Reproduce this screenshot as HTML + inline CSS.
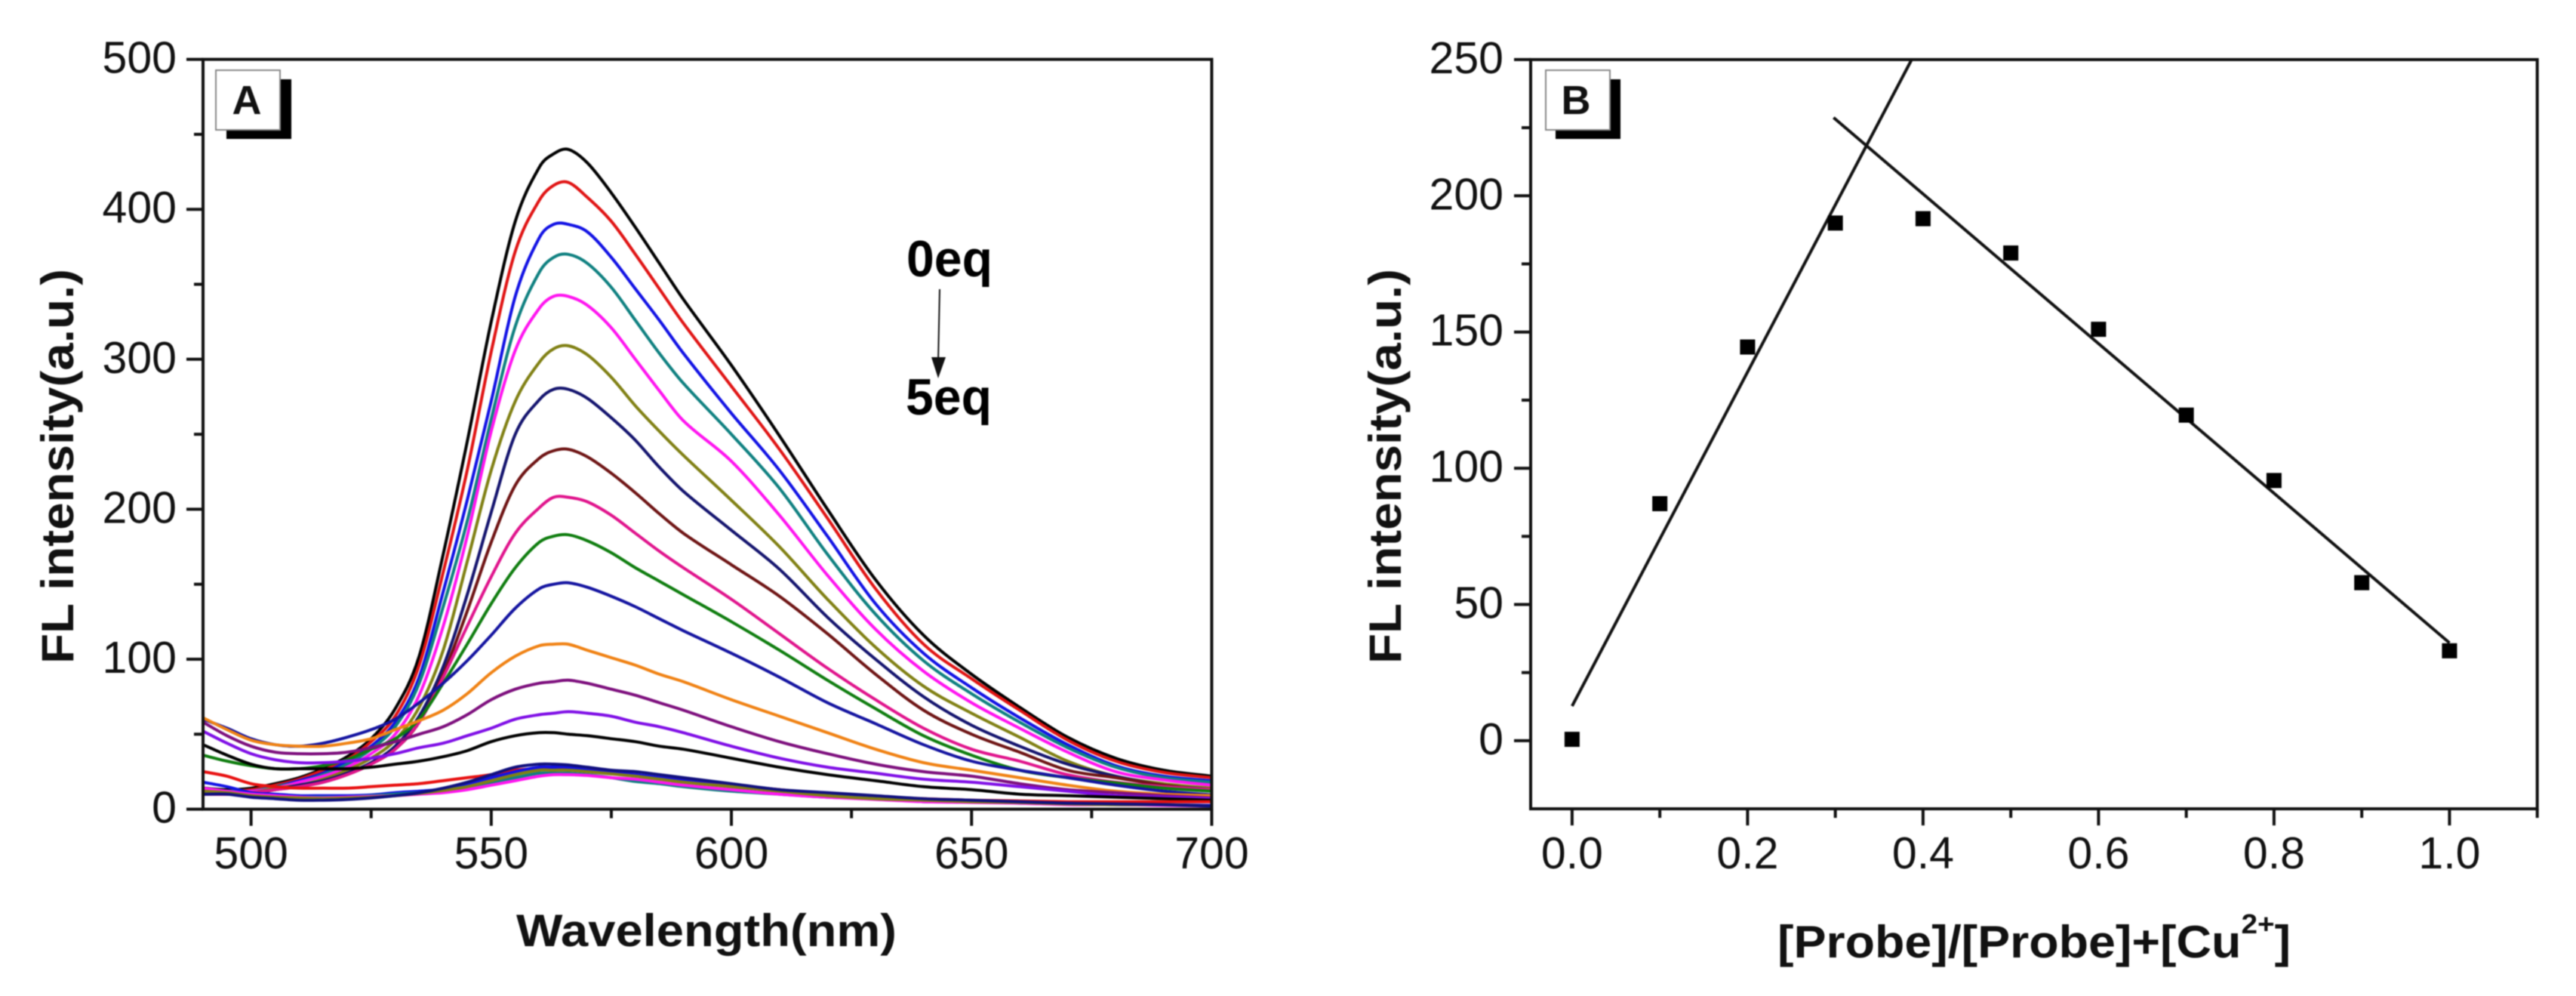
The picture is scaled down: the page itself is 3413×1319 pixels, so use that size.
<!DOCTYPE html>
<html lang="en">
<head>
<meta charset="utf-8">
<title>Fluorescence titration and Job plot</title>
<style>
html,body{margin:0;padding:0;background:#fff;}
body{width:3413px;height:1319px;overflow:hidden;}
svg{display:block;filter:blur(0.8px);}
text{font-family:"Liberation Sans",sans-serif;fill:#111;}
.tick{font-size:59px;}
.title{font-size:60px;font-weight:bold;}
.panel{font-size:54px;font-weight:bold;}
.eq{font-size:68px;font-weight:bold;fill:#000;}
</style>
</head>
<body>
<svg id="figure" xmlns="http://www.w3.org/2000/svg" width="3413" height="1319" viewBox="0 0 3413 1319">
  <rect x="0" y="0" width="3413" height="1319" fill="#fff"/>
  <g id="panelA">
    <g id="curvesA"></g>
    <g id="axesA"></g>
    <rect x="300" y="105" width="86" height="79" fill="#000"/>
    <rect x="286" y="93" width="85" height="79" fill="#fff" stroke="#888" stroke-width="2"/>
    <text class="panel" x="327" y="151" text-anchor="middle">A</text>
    <text class="eq" x="1201" y="366" textLength="114" lengthAdjust="spacingAndGlyphs">0eq</text>
    <line x1="1245" y1="383" x2="1243" y2="480" stroke="#111" stroke-width="2"/>
    <polygon points="1234,473 1253,473 1243,501" fill="#111"/>
    <text class="eq" x="1200" y="549" textLength="114" lengthAdjust="spacingAndGlyphs">5eq</text>
    <text class="title" x="684" y="1253" textLength="504" lengthAdjust="spacingAndGlyphs">Wavelength(nm)</text>
    <text class="title" transform="translate(97,879) rotate(-90)" textLength="523" lengthAdjust="spacingAndGlyphs">FL intensity(a.u.)</text>
  </g>
  <g id="panelB">
    <g id="axesB"></g>
    <g id="fitsB"></g>
    <g id="pointsB"></g>
    <rect x="2061" y="105" width="86" height="79" fill="#000"/>
    <rect x="2048" y="93" width="85" height="79" fill="#fff" stroke="#888" stroke-width="2"/>
    <text class="panel" x="2088" y="151" text-anchor="middle">B</text>
    <text class="title" transform="translate(2355,1268) scale(1.075,1)" x="0" y="0">[Probe]/[Probe]+[Cu<tspan font-size="36" dy="-32">2+</tspan><tspan dy="32">]</tspan></text>
    <text class="title" transform="translate(1856,879) rotate(-90)" textLength="523" lengthAdjust="spacingAndGlyphs">FL intensity(a.u.)</text>
  </g>
</svg>
<script>
// ---------- Panel A data ----------
const wavelengths = [490,495,500,505,510,515,520,525,530,535,540,545,550,555,560,563,566,570,575,580,585,590,600,610,620,630,640,650,660,670,680,690,700];
const curve01Black = [14,13,14,17,21,27,35,47,67,102,170,245,325,392,428,437,440,431,411,388,364,340,296,249,200,153,116,90,68,48,34,26,22];
const curve02Red = [13,12,13,16,20,26,33,45,62,96,158,226,305,372,406,416,418,408,392,370,347,324,282,240,194,147,110,87,66,46,32,24.5,21];
const curve03Blue = [13,12,12,15,19,24,32,42,58,88,145,206,272,342,381,390,390,385,368,347,326,304,264,226,182,137,104,81,61,43,29,22,19];
const curve04Teal = [12,12,12,15,18,23,30,40,55,84,135,192,260,322,358,368,370,364,348,326,304,284,250,214,170,130,99,77,58,41,28,21,18];
const curve05Magenta = [12,11,12,14,18,22,28,37,50,76,122,182,252,306,334,342,342,336,321,300,279,259,232,196,156,120,92,71,54,38,25,19.5,16];
const curve06Olive = [12,11,11,14,16,20,26,34,46,68,106,165,226,272,298,307,309,303,288,269,252,236,206,175,140,108,82,64,48,32,22,17,14];
const curve07Navy = [11,10,11,13,16,19,24,31,42,62,95,143,198,250,273,280,280,274,261,246,228,212,186,160,128,100,75,56,42,30,22,16,13];
const curve08Maroon = [10,10,10,13,15,18,23,30,40,58,90,132,178,216,234,239,240,235,224,211,197,184,163,142,117,90,66,50,38,26,21,16,12.5];
const curve09Pink = [10,10,11,13,15,18,23,30,40,58,88,122,155,184,201,208,208,205,196,184,172,161,140,117,94,73,54,40,32,23,18,15,13];
const curve10Green = [36,32,29,27,27,29,33,40,47,60,84,110,137,161,178,182,183,179,171,161,152,143,125,106,86,67,49,36,26,21,17.5,14,12];
const curve11Indigo = [60,54,47,43,42,44,48,53,60,71,84,99,116,134,147,150,151,148,142,135,127,119,104,88,71,57,43,32,26,21,16,12,9.5];
const curve12Orange = [61,53,46,43,42,42,44,47,53,59,66,77,91,102,109,110,110,106,101,96,90,85,73,62,51,40,31,26,21,16,12,10,9];
const curve13Purple = [58,49,42,38,37,37,38,41,45,50,55,63,73,80,84,85,86,84,80,76,71,66,55,45,37,30,25,22,17,13,11,9,7.5];
const curve14Violet = [52,44,37,33,31,31,32,34,37,41,44,49,54,60,63,64,65,64,62,58,55,51,42,34,28,24,20,18,15,12,9,8,7];
const curve15Black = [43,36,30,27,27,27,27,28,30,32,35,39,45,49,51,51,50,49,47,45,42,40,34,28,23,19,15,13,10,9,8,7,6];
const curve16Red = [25,22,17,15,14,14,14,15,16,17,19,21,23,26,27,27,27,26,24.5,23,21,20,16,13,10,8,7,6,5.5,5,5,5,5];
const curve17Blue = [18,15,11,10,9,9,9,9.5,11,12,13.5,17,21,25,28,28,28,26,24,23,21,19,15,12,10,8,6,5,4.5,4,3,3,2.5];
const curve18Teal = [13,12,10,9,8,8,8,9,10,11,12.5,15,18,21,24,24,24,23,21,18.5,17,15,12,10,8,7,5,5,4,3.5,3,3,2];
const curve19Magenta = [14,12,10,9,8,7.5,8,8.5,9,10,11,13,16,19,22,23,23,22.5,21,20,18,16,13,10,8,6.5,5,4.5,4,3,3,2.5,2];
const curve20Olive = [12,11,9,8,7.5,7,7.5,8,9,10.5,12.5,15,19,23,26,26,26,25,23.5,22,20,18,15,12,9,7,6,5,4.5,3.5,3,3,2];
const curve21Navy = [10,10,8,7,6,6,6.5,7.5,9,11,14,18,23,28,30,30,29.5,28,26,25,23,21,17,13,11,9,7,6,5,4,3.5,3,2];
const allCurves = [curve01Black,curve02Red,curve03Blue,curve04Teal,curve05Magenta,curve06Olive,curve07Navy,curve08Maroon,curve09Pink,curve10Green,curve11Indigo,curve12Orange,curve13Purple,curve14Violet,curve15Black,curve16Red,curve17Blue,curve18Teal,curve19Magenta,curve20Olive,curve21Navy];
const curveColors = ['#000000','#e01414','#1212e4','#0f8080','#ff14f0','#808014','#14146e','#6e1414','#e0148c','#0f7d0f','#1414a0','#f08214','#7d0f7d','#7f0fe6','#000000','#e81010','#1212e4','#0f8080','#ff14f0','#808014','#10107e'];
const xTicksA = [500,550,600,650,700];
const xMinorTicksA = [525,575,625,675];
const yTicksA = [0,100,200,300,400,500];
const yMinorTicksA = [50,150,250,350,450];

// ---------- Panel B data ----------
const ratios = [0,0.1,0.2,0.3,0.4,0.5,0.6,0.7,0.8,0.9,1.0];
const intensities = [0.5,87,144.5,190,191.6,179,151,119.5,95.5,58,33];
const risingFitX = [0,0.387];
const risingFitY = [12.7,250];
const fallingFitX = [0.298,1.0];
const fallingFitY = [228.7,35.9];
const xTicksB = [0,0.2,0.4,0.6,0.8,1.0];
const xMinorTicksB = [0.1,0.3,0.5,0.7,0.9,1.1];
const yTicksB = [0,50,100,150,200,250];
const yMinorTicksB = [25,75,125,175,225];

// ---------- Axis functions ----------
const xA = v => 269 + (v - 490) * 6.364;
const yA = v => 1071.6 - v * 1.986;
const xB = v => 2082.9 + v * 1162.5;
const yB = v => 980.9 - v * 3.608;

const NS = 'http://www.w3.org/2000/svg';
function el(parent, tag, attrs) {
  const node = document.createElementNS(NS, tag);
  for (const k in attrs) node.setAttribute(k, attrs[k]);
  parent.appendChild(node);
  return node;
}
function smoothPath(pts) {
  let d = 'M' + pts[0][0].toFixed(1) + ' ' + pts[0][1].toFixed(1);
  for (let i = 0; i < pts.length - 1; i++) {
    const p0 = pts[Math.max(i - 1, 0)], p1 = pts[i], p2 = pts[i + 1], p3 = pts[Math.min(i + 2, pts.length - 1)];
    const t = (p2[0] - p1[0]) / 3;
    const m1 = (p2[1] - p0[1]) / (p2[0] - p0[0]);
    const m2 = (p3[1] - p1[1]) / (p3[0] - p1[0]);
    d += 'C' + (p1[0] + t).toFixed(1) + ' ' + (p1[1] + m1 * t).toFixed(1) + ' ' +
         (p2[0] - t).toFixed(1) + ' ' + (p2[1] - m2 * t).toFixed(1) + ' ' +
         p2[0].toFixed(1) + ' ' + p2[1].toFixed(1);
  }
  return d;
}

function drawFrame(group, left, right, top, bottom, prefix) {
  const frame = el(group, 'rect', {x:left, y:top, width:right-left, height:bottom-top, fill:'none', stroke:'#111', 'stroke-width':4});
  
  
}
function drawXTick(group, x, bottom, len, label, prefix) {
  const t = el(group, 'line', {x1:x, x2:x, y1:bottom, y2:bottom+len, stroke:'#111', 'stroke-width':4});
  
  
  if (label !== null) {
    const s = el(group, 'text', {x:x, y:1150, 'text-anchor':'middle', class:'tick'});
    s.textContent = label;
    
    
  }
}
function drawYTick(group, left, y, len, label, labelRight, prefix) {
  const t = el(group, 'line', {x1:left-len, x2:left, y1:y, y2:y, stroke:'#111', 'stroke-width':4});
  
  
  if (label !== null) {
    const s = el(group, 'text', {x:labelRight, y:y+18, 'text-anchor':'end', class:'tick'});
    s.textContent = label;
    
    
  }
}

// ---------- Panel A ----------
const curvesA = document.getElementById('curvesA');
allCurves.forEach((series, i) => {
  const pts = series.map((v, j) => [xA(wavelengths[j]), yA(v)]);
  const line = el(curvesA, 'path', {d:smoothPath(pts), fill:'none', stroke:curveColors[i], 'stroke-width':4, 'stroke-linejoin':'round'});
  
  
});
const axesA = document.getElementById('axesA');
drawFrame(axesA, xA(490), xA(700), yA(500), yA(0), 'panel-a');
xTicksA.forEach(v => drawXTick(axesA, xA(v), yA(0), 22, String(v), 'panel-a'));
xMinorTicksA.forEach(v => drawXTick(axesA, xA(v), yA(0), 12, null, 'panel-a'));
yTicksA.forEach(v => drawYTick(axesA, xA(490), yA(v), 22, String(v), 234, 'panel-a'));
yMinorTicksA.forEach(v => drawYTick(axesA, xA(490), yA(v), 12, null, 234, 'panel-a'));

// ---------- Panel B ----------
const axesB = document.getElementById('axesB');
drawFrame(axesB, 2028, xB(1.1), yB(250), yB(-25), 'panel-b');
xTicksB.forEach(v => drawXTick(axesB, xB(v), yB(-25), 22, v.toFixed(1), 'panel-b'));
xMinorTicksB.forEach(v => drawXTick(axesB, xB(v), yB(-25), 12, null, 'panel-b'));
yTicksB.forEach(v => drawYTick(axesB, 2028, yB(v), 22, String(v), 1992, 'panel-b'));
yMinorTicksB.forEach(v => drawYTick(axesB, 2028, yB(v), 12, null, 1992, 'panel-b'));

const fitsB = document.getElementById('fitsB');
const risingFit = el(fitsB, 'line', {x1:xB(risingFitX[0]), y1:yB(risingFitY[0]), x2:xB(risingFitX[1]), y2:yB(risingFitY[1]), stroke:'#111', 'stroke-width':4});


const fallingFit = el(fitsB, 'line', {x1:xB(fallingFitX[0]), y1:yB(fallingFitY[0]), x2:xB(fallingFitX[1]), y2:yB(fallingFitY[1]), stroke:'#111', 'stroke-width':4});



const pointsB = document.getElementById('pointsB');
ratios.forEach((r, i) => {
  const size = 20;
  const p = el(pointsB, 'rect', {x:xB(r)-size/2, y:yB(intensities[i])-size/2, width:size, height:size, fill:'#000'});
  
  
});
</script>
</body>
</html>
